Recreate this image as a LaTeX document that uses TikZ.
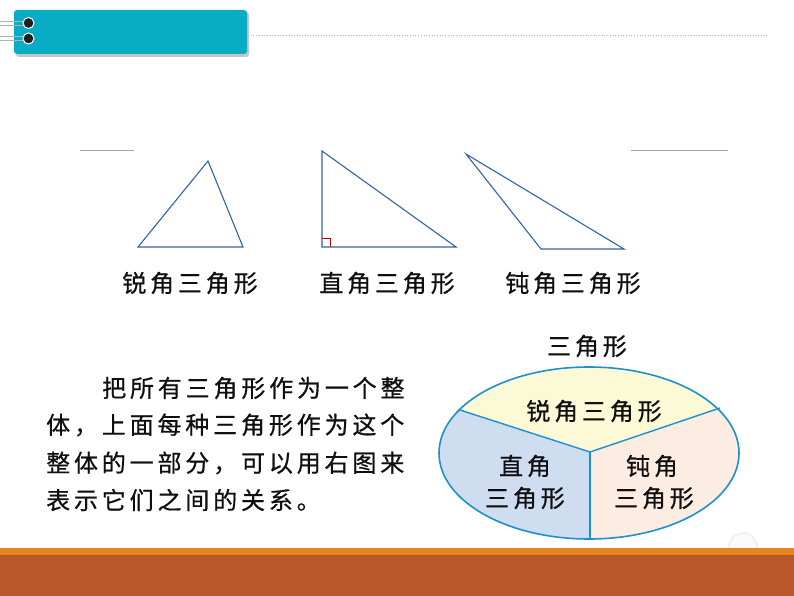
\documentclass[tikz,border=0pt]{standalone}
\usepackage{fontspec}
\usetikzlibrary{calc}
\newfontfamily\cjkls[LetterSpace=16,FakeBold=0.6]{Noto Sans CJK SC}
\definecolor{teal1}{RGB}{8,172,196}
\definecolor{triblue}{RGB}{50,100,165}
\definecolor{ellblue}{RGB}{28,145,205}
\definecolor{secyellow}{RGB}{252,250,214}
\definecolor{secblue}{RGB}{207,221,240}
\definecolor{secpeach}{RGB}{252,236,226}
\definecolor{barorange}{RGB}{230,132,32}
\definecolor{barbrown}{RGB}{187,88,42}
\definecolor{txt}{RGB}{15,15,15}
\tikzset{
  cjk/.style={font=\cjkls\fontsize{24}{24}\selectfont, text=txt, inner sep=0pt},
  tri/.style={draw=triblue, line width=1.1pt, line join=miter},
  divline/.style={draw=ellblue, line width=1.4pt},
  greyrule/.style={draw=gray!70, line width=0.8pt},
}
\begin{document}
\begin{tikzpicture}[x=1pt,y=-1pt]
\useasboundingbox (0,0) rectangle (794,596);
\fill[white] (0,0) rectangle (794,596);
% header
\fill[gray!45, rounded corners=3pt] (16,12) rectangle (249,57);
\fill[teal1, rounded corners=3pt] (14,10) rectangle (247,54);
\draw[gray!60, line width=0.8pt] (0,21) -- (27,21) (0,25) -- (27,25);
\draw[gray!60, line width=0.8pt] (0,36) -- (27,36) (0,40) -- (27,40);
\draw[white, line width=1pt, fill=gray!25!black] (28.5,23) circle (5.5);
\draw[white, line width=1pt, fill=gray!25!black] (28.5,38.5) circle (5.5);
\coordinate (dl) at (248,35);
\coordinate (dr) at (768,35);
\draw[gray!60, line width=0.7pt, dotted] (dl) -- (dr);
% grey rules
\coordinate (g1a) at (80,150); \coordinate (g1b) at (134,150);
\coordinate (g2a) at (631,150); \coordinate (g2b) at (728,150);
\draw[greyrule] (g1a) -- (g1b);
\draw[greyrule] (g2a) -- (g2b);
% triangles
\coordinate (a1) at (138,247); \coordinate (a2) at (243,247); \coordinate (a3) at (208,161);
\draw[tri] (a1) -- (a2) -- (a3) -- cycle;
\coordinate (r1) at (322,151); \coordinate (r2) at (322,247); \coordinate (r3) at (456,247);
\draw[tri] (r1) -- (r2) -- (r3) -- cycle;
\draw[red!75!black, line width=0.6pt] (322,238.5) -- (330.5,238.5) -- (330.5,247);
\coordinate (o1) at (466,154); \coordinate (o2) at (541,249); \coordinate (o3) at (624,249);
\draw[tri] (o1) -- (o2) -- (o3) -- cycle;
\node[cjk] (la) at (190,283) {锐角三角形};
\node[cjk] (lr) at (387,283) {直角三角形};
\node[cjk] (lo) at (573,283) {钝角三角形};
% paragraph
\node[cjk, anchor=west] (p1) at (102,388) {把所有三角形作为一个整};
\node[cjk, anchor=west] (p2) at (46,425) {体，上面每种三角形作为这个};
\node[cjk, anchor=west] (p3) at (46,463) {整体的一部分，可以用右图来};
\node[cjk, anchor=west] (p4) at (46,500) {表示它们之间的关系。};
% gear (faint)
\draw[gray!12, line width=2pt, fill=gray!4] (743,547) circle (14);
% ellipse
\coordinate (C) at (590,452);
\coordinate (L) at (460,410);
\coordinate (R) at (720,408);
\coordinate (B) at (590,539);
\begin{scope}
\clip (589,453) ellipse [x radius=150, y radius=86];
\fill[secyellow] (C) -- ($(C)!1.4!(L)$) -- (400,300) -- (780,300) -- ($(C)!1.4!(R)$) -- cycle;
\fill[secblue] (C) -- ($(C)!1.4!(L)$) -- (400,600) -- (590,600) -- cycle;
\fill[secpeach] (C) -- ($(C)!1.4!(R)$) -- (780,600) -- (590,600) -- cycle;
\end{scope}
\draw[divline] (C) -- (L);
\draw[divline] (C) -- (R);
\draw[divline] (C) -- (B);
\draw[ellblue, line width=1.6pt] (589,453) ellipse [x radius=150, y radius=86];
\node[cjk] (top) at (587,346) {三角形};
\node[cjk] (e1) at (594,411) {锐角三角形};
\node[cjk] (e2a) at (525,466) {直角};
\node[cjk] (e2b) at (525,498) {三角形};
\node[cjk] (e3a) at (652,466) {钝角};
\node[cjk] (e3b) at (654,498) {三角形};
% bottom bars
\fill[barorange] (0,548) rectangle (794,556);
\fill[barbrown] (0,555) rectangle (794,596);
\end{tikzpicture}
\end{document}
